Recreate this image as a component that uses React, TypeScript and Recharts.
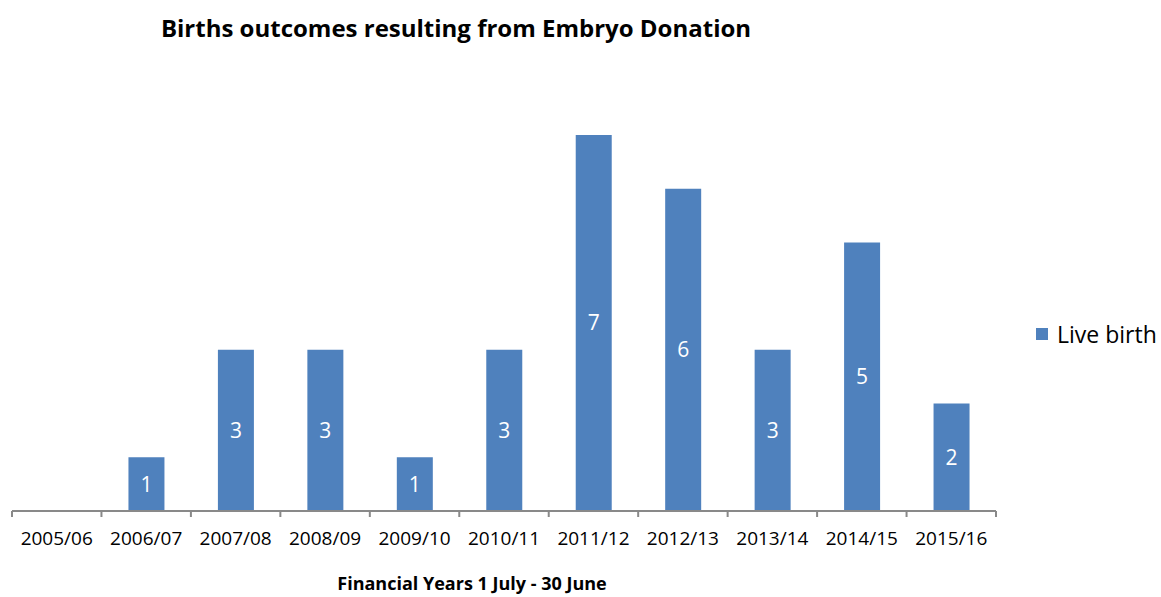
import React from "react";
import { BarChart, Bar, XAxis, YAxis, LabelList } from "recharts";

const years = [
  "2005/06",
  "2006/07",
  "2007/08",
  "2008/09",
  "2009/10",
  "2010/11",
  "2011/12",
  "2012/13",
  "2013/14",
  "2014/15",
  "2015/16",
];
const liveBirths = [0, 1, 3, 3, 1, 3, 7, 6, 3, 5, 2];

const data = years.map((year, i) => ({ year, live: liveBirths[i] }));

const W = 1161;
const H = 597;
const LEFT = 12;
const RIGHT = 165;
const BAND = (W - LEFT - RIGHT) / years.length;
const FONT = "'Open Sans', sans-serif";
const BLUE = "#4F81BD";
const AXIS = "#898989";

const YearTick = (props: any) => {
  const { x, y, payload, index } = props;
  const top = y - 8;
  return (
    <g>
      <line x1={x - BAND / 2} x2={x - BAND / 2} y1={top} y2={top + 6} stroke={AXIS} strokeWidth={2} />
      {index === years.length - 1 && (
        <line x1={x + BAND / 2} x2={x + BAND / 2} y1={top} y2={top + 6} stroke={AXIS} strokeWidth={2} />
      )}
      <text x={x} y={y + 26} textAnchor="middle" fontSize={19} fill="#000" fontFamily={FONT}>
        {payload.value}
      </text>
    </g>
  );
};

export default function App() {
  return (
    <div style={{ position: "absolute", left: 0, top: 0, width: W, height: H, background: "#fff" }}>
      <div
        style={{
          position: "absolute",
          left: 0,
          width: 912,
          top: 11,
          textAlign: "center",
          fontFamily: FONT,
          fontWeight: 700,
          fontSize: 24,
          color: "#000",
        }}
      >
        Births outcomes resulting from Embryo Donation
      </div>
      <BarChart
        width={W}
        height={H}
        data={data}
        margin={{ top: 135, right: RIGHT, left: LEFT, bottom: 0 }}
      >
        <XAxis
          dataKey="year"
          height={86}
          interval={0}
          tickLine={false}
          axisLine={{ stroke: AXIS, strokeWidth: 2 }}
          tick={<YearTick />}
        />
        <YAxis hide domain={[0, 7]} />
        <Bar dataKey="live" name="Live birth" fill={BLUE} barSize={36} isAnimationActive={false}>
          <LabelList
            dataKey="live"
            position="center"
            fill="#fff"
            fontSize={21}
            fontFamily={FONT}
            formatter={(v: any) => (v ? v : "")}
          />
        </Bar>
      </BarChart>
      <div
        style={{
          position: "absolute",
          left: 1036,
          top: 318,
          display: "flex",
          alignItems: "center",
          fontFamily: FONT,
          fontSize: 23,
          color: "#000",
          whiteSpace: "nowrap",
        }}
      >
        <span style={{ width: 12, height: 12, background: BLUE, display: "inline-block", marginRight: 9 }} />
        <span>Live birth</span>
      </div>
      <div
        style={{
          position: "absolute",
          left: 0,
          width: 944,
          top: 571,
          textAlign: "center",
          fontFamily: FONT,
          fontWeight: 700,
          fontSize: 18,
          color: "#000",
        }}
      >
        Financial Years 1 July - 30 June
      </div>
    </div>
  );
}
